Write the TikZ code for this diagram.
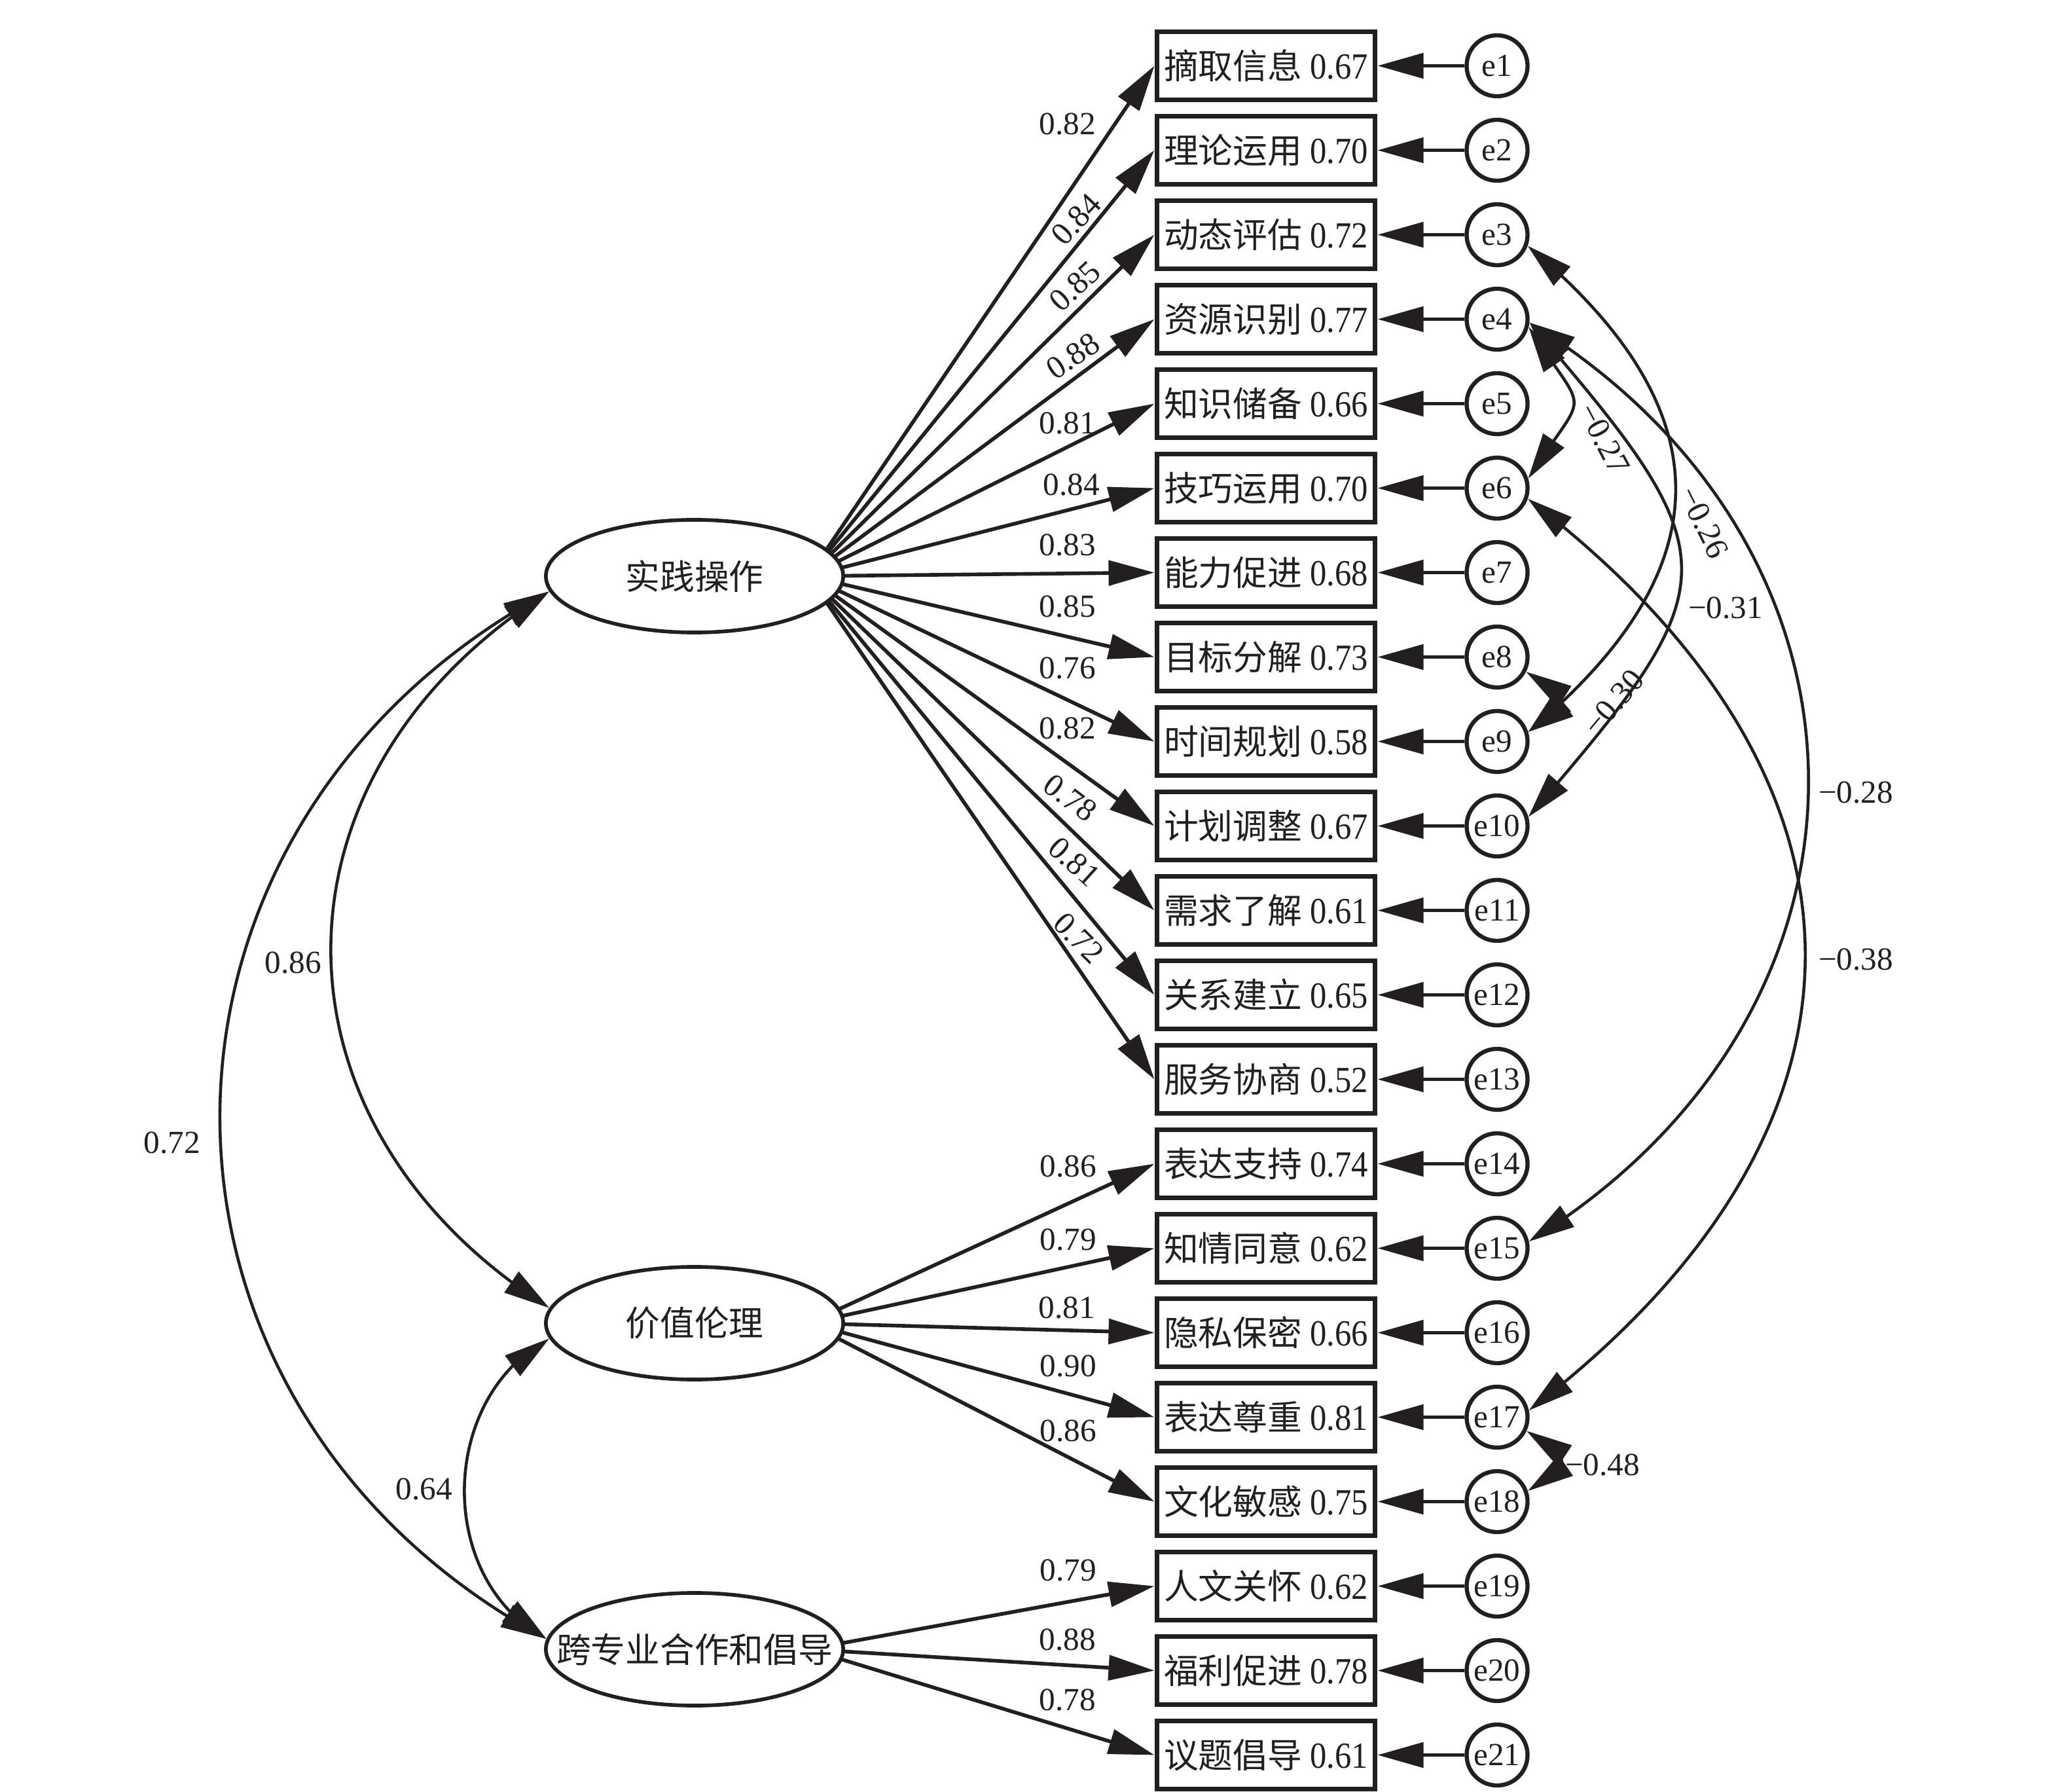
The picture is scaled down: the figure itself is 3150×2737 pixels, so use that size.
\documentclass[tikz,border=0pt]{standalone}
\usepackage{fontspec}
\setmainfont{Liberation Serif}
\newfontfamily\cjk{Noto Sans CJK SC}
\usetikzlibrary{arrows.meta,bending,shapes.geometric}
\definecolor{ink}{RGB}{35,31,32}
\newcommand\zh[1]{{\fontsize{15}{17}\cjk #1}}
\newcommand\rnum[1]{\scalebox{0.9}[1]{\fontsize{16}{18}\selectfont #1}}
\begin{document}
\begin{tikzpicture}[x=0.01cm,y=-0.01cm,color=ink,
  every node/.style={font=\fontsize{14}{16}\selectfont},
  >={Triangle[length=0.7cm,width=0.38cm]},
  arr/.style={->,line width=1.6pt},
  cov/.style={<->,line width=1.3pt},
  rectbox/.style={draw,line width=2.2pt,minimum width=3.33cm,minimum height=1.04cm,inner sep=0pt,fill=white},
  errc/.style={circle,draw,line width=1.8pt,minimum size=0.93cm,inner sep=0pt,fill=white},
  latent/.style={ellipse,draw,line width=1.6pt,minimum width=4.54cm,minimum height=1.72cm,inner sep=0pt,fill=white},
  lab/.style={inner sep=0pt}]
\fill[white] (0,0) rectangle (3150,2737);
\useasboundingbox (0,0) rectangle (3150,2737);

% observed variables and errors
\foreach \i/\t/\v in {1/摘取信息/0.67,2/理论运用/0.70,3/动态评估/0.72,4/资源识别/0.77,
  5/知识储备/0.66,6/技巧运用/0.70,7/能力促进/0.68,8/目标分解/0.73,9/时间规划/0.58,
  10/计划调整/0.67,11/需求了解/0.61,12/关系建立/0.65,13/服务协商/0.52,14/表达支持/0.74,
  15/知情同意/0.62,16/隐私保密/0.66,17/表达尊重/0.81,18/文化敏感/0.75,19/人文关怀/0.62,
  20/福利促进/0.78,21/议题倡导/0.61}{
  \node[rectbox] (r\i) at (1934,{100.5+129*(\i-1)}) {\zh{\t}\ \rnum{\v}};
  \node[errc] (e\i) at (2287,{100.5+129*(\i-1)}) {e\i};
  \draw[arr] (e\i) -- (r\i);
}

% loading sources
\coordinate (prs) at (1235,880);
\coordinate (pvs) at (1235,2021);
\coordinate (pks) at (1235,2519);
\foreach \i in {1,...,13} \draw[arr] (prs) -- (r\i.west);
\foreach \i in {14,...,18} \draw[arr] (pvs) -- (r\i.west);
\foreach \i in {19,20,21} \draw[arr] (pks) -- (r\i.west);

% latent variables
\node[latent] (pr) at (1061,880) {\makebox[0pt]{\zh{实践操作}}};
\node[latent] (pv) at (1061,2021) {\makebox[0pt]{\zh{价值伦理}}};
\node[latent] (pk) at (1061,2519) {\makebox[0pt]{\zh{跨专业合作和倡导}}};

% latent covariances
\draw[cov] (pr.186) .. controls +(-445,280) and +(-445,-280) .. (pv.174);
\draw[cov] (pr.186) .. controls +(-668,360) and +(-668,-360) .. (pk.176);
\draw[cov] (pv.186) .. controls +(-170,90) and +(-170,-90) .. (pk.176);
\node[lab] (c86) at (448,1470) {0.86};
\node[lab] (c72) at (263,1745) {0.72};
\node[lab] (c64) at (648,2274) {0.64};

% error covariances
\draw[cov] (e3.-20) .. controls +(301,250) and +(301,-250) .. (e9.17);
\draw[cov] (e4.-6) .. controls +(311,360) and +(311,-360) .. (e10.16);
\draw[cov] (e4.-6) .. controls +(569,350) and +(569,-350) .. (e15.12);
\draw[cov] (e6.-19) .. controls +(564,430) and +(564,-430) .. (e17.12);
\draw[cov] (e4.-14) .. controls +(93,145) and +(93,-145) .. (e6.17);
\draw[cov] (e8.-27) .. controls +(70,30) and +(70,-30) .. (e9.17);
\draw[cov] (e17.-25) .. controls +(70,30) and +(70,-30) .. (e18.19);
\node[lab,rotate=-62] (m27) at (2450,670) {−0.27};
\node[lab,rotate=-64] (m26) at (2603,798) {−0.26};
\node[lab] (m31) at (2636,928) {−0.31};
\node[lab,rotate=50] (m30) at (2465,1073) {−0.30};
\node[lab] (m28) at (2835,1210) {−0.28};
\node[lab] (m38) at (2835,1465) {−0.38};
\node[lab] (m48) at (2448,2237) {−0.48};

% loading labels
\node[lab] (l1) at (1631,189) {0.82};
\node[lab,rotate=47] (l2) at (1644,335) {0.84};
\node[lab,rotate=43] (l3) at (1642,437) {0.85};
\node[lab,rotate=34] (l4) at (1639,544) {0.88};
\node[lab] (l5) at (1631,646) {0.81};
\node[lab] (l6) at (1637,740) {0.84};
\node[lab] (l7) at (1631,832) {0.83};
\node[lab] (l8) at (1631,926) {0.85};
\node[lab] (l9) at (1631,1020) {0.76};
\node[lab] (l10) at (1631,1112) {0.82};
\node[lab,rotate=-37] (l11) at (1635,1219) {0.78};
\node[lab,rotate=-42] (l12) at (1641,1316) {0.81};
\node[lab,rotate=-45] (l13) at (1648,1433) {0.72};
\node[lab] (l14) at (1632,1781) {0.86};
\node[lab] (l15) at (1632,1893) {0.79};
\node[lab] (l16) at (1630,1997) {0.81};
\node[lab] (l17) at (1632,2086) {0.90};
\node[lab] (l18) at (1632,2185) {0.86};
\node[lab] (l19) at (1632,2398) {0.79};
\node[lab] (l20) at (1631,2504) {0.88};
\node[lab] (l21) at (1631,2596) {0.78};
\end{tikzpicture}
\end{document}
